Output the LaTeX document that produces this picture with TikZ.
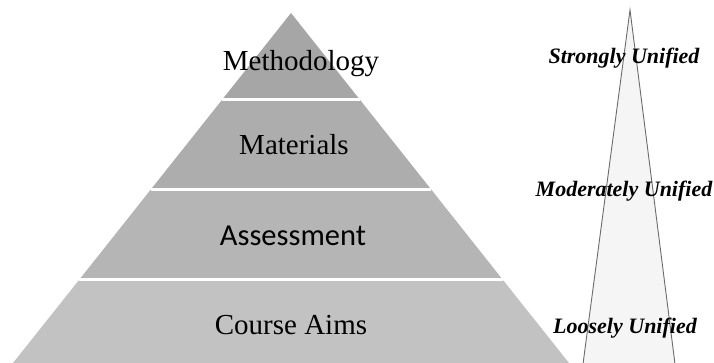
\documentclass[tikz,border=0pt]{standalone}
\usepackage{fontspec}
\setmainfont{Liberation Serif}
\newfontfamily\bandsans{Carlito}
\begin{document}
\begin{tikzpicture}[x=1pt,y=-1pt,
  layer/.style={fill=#1,draw=none},
  gap/.style={white,line width=2.6pt},
  bandlabel/.style={font=\fontsize{29}{29}\selectfont,inner sep=0pt,anchor=base},
  sidelabel/.style={font=\fontsize{22}{22}\selectfont\bfseries\itshape,inner sep=0pt,anchor=base},
  spike/.style={fill=black!4,draw=black!58,line width=0.9pt,line join=miter}]
\useasboundingbox (0,0) rectangle (714,363);

% pyramid corners
\coordinate (apex) at (291,13);
\coordinate (bl) at (13,363);
\coordinate (br) at (569,363);
% band boundaries
\coordinate (l1) at (222.3,99.5);   \coordinate (r1) at (359.7,99.5);
\coordinate (l2) at (150.8,189.5);  \coordinate (r2) at (431.2,189.5);
\coordinate (l3) at (79.4,279.5);   \coordinate (r3) at (502.6,279.5);

\fill[layer=black!35] (apex) -- (r1) -- (l1) -- cycle;
\fill[layer=black!32] (l1) -- (r1) -- (r2) -- (l2) -- cycle;
\fill[layer=black!29] (l2) -- (r2) -- (r3) -- (l3) -- cycle;
\fill[layer=black!24] (l3) -- (r3) -- (br) -- (bl) -- cycle;
\draw[gap] (l1) -- (r1);
\draw[gap] (l2) -- (r2);
\draw[gap] (l3) -- (r3);

\node[bandlabel] (meth) at (301,71) {Methodology};
\node[bandlabel] (mat) at (294,155) {Materials};
\node[bandlabel,font=\bandsans\fontsize{30.5}{30.5}\selectfont] (ass) at (293,246) {Assessment};
\node[bandlabel] (aims) at (291,334) {Course Aims};

% narrowing spike on the right
\coordinate (sa) at (630,10);
\coordinate (sl) at (583,364);
\coordinate (sr) at (675,364);
\filldraw[spike] (sl) -- (sa) -- (sr);

\node[sidelabel] (strong) at (624,64) {Strongly Unified};
\node[sidelabel] (moder) at (624,197) {Moderately Unified};
\node[sidelabel] (loose) at (625,333) {Loosely Unified};
\end{tikzpicture}
\end{document}
